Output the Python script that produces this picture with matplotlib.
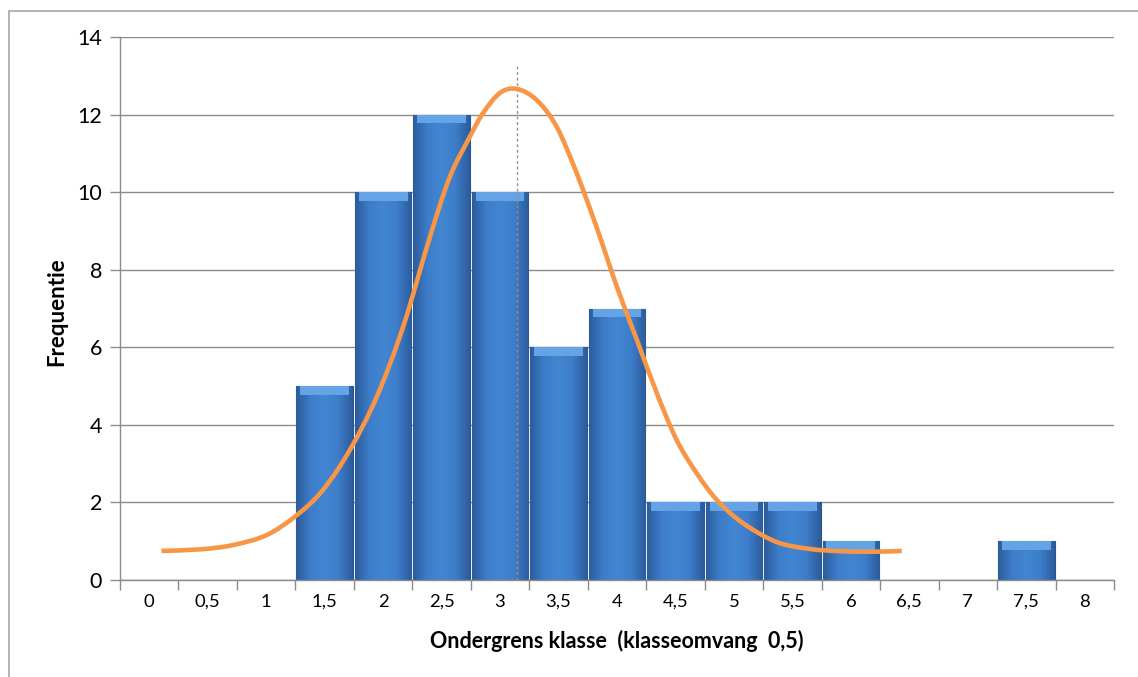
import numpy as np
import matplotlib
matplotlib.use("Agg")
import matplotlib.pyplot as plt
from matplotlib.colors import LinearSegmentedColormap
from matplotlib.patches import Rectangle, PathPatch
from matplotlib.path import Path

plt.rcParams['font.family'] = ['Lato', 'DejaVu Sans']

# class lower bounds (category labels) and frequencies
klassen = ["0", "0,5", "1", "1,5", "2", "2,5", "3", "3,5", "4", "4,5",
           "5", "5,5", "6", "6,5", "7", "7,5", "8"]
frequentie = [0, 0, 0, 5, 10, 12, 10, 6, 7, 2, 2, 2, 1, 0, 0, 1, 0]

# normal curve (x in category positions)
curve_x = [0.21, 0.87, 1.43, 2.01, 2.53, 2.97, 3.43, 3.89, 4.34, 4.80,
           5.14, 5.48, 5.71, 6.00, 6.29, 6.63, 6.97, 7.31, 7.65, 8.00,
           8.34, 8.68, 9.02, 9.36, 9.71, 10.15, 10.73, 11.30, 11.86,
           12.44, 12.87]
curve_y = [0.75, 0.79, 0.90, 1.16, 1.68, 2.32, 3.35, 4.72, 6.52, 8.84,
           10.39, 11.42, 12.04, 12.56, 12.66, 12.37, 11.68, 10.49, 9.10,
           7.55, 6.19, 4.82, 3.61, 2.76, 2.06, 1.47, 0.98, 0.80, 0.74,
           0.73, 0.75]
gemiddelde_pos = 6.29
gemiddelde_top = 13.3


def smooth_path(xs, ys):
    # Excel-style smoothed line: cubic bezier through the points
    pts = np.column_stack([xs, ys])
    verts = [pts[0]]
    codes = [Path.MOVETO]
    for i in range(len(pts) - 1):
        p0 = pts[i - 1] if i > 0 else pts[i]
        p1, p2 = pts[i], pts[i + 1]
        p3 = pts[i + 2] if i + 2 < len(pts) else pts[i + 1]
        verts += [p1 + (p2 - p0) / 6, p2 - (p3 - p1) / 6, p2]
        codes += [Path.CURVE4] * 3
    return Path(verts, codes)


W, H = 1138, 677
fig = plt.figure(figsize=(W / 100, H / 100), dpi=100)
ax = fig.add_axes([120 / W, 1 - 580 / H, (1114 - 120) / W, (580 - 37) / H])

# outer chart frame
fig.patches.append(Rectangle((9 / W, -0.1), 1.2, 1 - 11 / H + 0.1,
                             transform=fig.transFigure, fill=False,
                             edgecolor='#a6a6a6', linewidth=1.2))

x = np.arange(len(klassen))
bars = ax.bar(x, frequentie, width=0.97, color='#3a74bf',
              edgecolor='#2a5590', linewidth=0.8, zorder=3)

# horizontal shading inside the bars
cmap = LinearSegmentedColormap.from_list(
    'bev', ['#2c5c9c', '#3d7dca', '#4286d2', '#3d7dca', '#2c5c9c'])
grad = np.linspace(0, 1, 64).reshape(1, -1)
for b, v in zip(bars, frequentie):
    if v == 0:
        continue
    bx, bw = b.get_x(), b.get_width()
    im = ax.imshow(grad, extent=[bx, bx + bw, 0, v], aspect='auto',
                   cmap=cmap, zorder=3.5, interpolation='bilinear')
    im.set_clip_path(b)
    # lighter bevel on top
    ax.bar(bx + bw / 2, 0.22, bottom=v - 0.22, width=bw * 0.86,
           color='#63a3e6', linewidth=0, zorder=3.6)

ax.add_patch(PathPatch(smooth_path(curve_x, curve_y), fill=False,
                       edgecolor='#f79646', linewidth=3.3, zorder=5,
                       capstyle='butt'))
ax.plot([gemiddelde_pos, gemiddelde_pos], [0, gemiddelde_top],
        color='#a08a7a', linewidth=1.0, linestyle=(0, (2, 2)), zorder=4)

ax.set_xlim(-0.5, len(klassen) - 0.5)
ax.set_ylim(0, 14)
ax.set_yticks(range(0, 15, 2))
ax.set_xticks(x)
ax.set_xticklabels(klassen, fontsize=13.3)
ax.set_xticks(np.arange(-0.5, len(klassen)), minor=True)
ax.tick_params(axis='x', which='major', length=0, pad=10)
ax.tick_params(axis='x', which='minor', length=7, color='#8c8c8c', width=1)
ax.tick_params(axis='y', length=7, color='#8c8c8c', width=1,
               labelsize=15.5, pad=6)

ax.grid(axis='y', color='#8c8c8c', linewidth=1, zorder=0)
ax.set_axisbelow(True)
for s in ['top', 'right']:
    ax.spines[s].set_visible(False)
for s in ['left', 'bottom']:
    ax.spines[s].set_color('#8c8c8c')
    ax.spines[s].set_linewidth(1)
    ax.spines[s].set_zorder(6)

fig.text(57 / W, 1 - 312 / H, "Frequentie", rotation=90, ha='center',
         va='center', fontsize=16, fontweight='bold')
fig.text(617 / W, 1 - 641 / H, "Ondergrens klasse  (klasseomvang  0,5)",
         ha='center', va='center', fontsize=15.5, fontweight='bold')

fig.savefig("out.png", dpi=100)
